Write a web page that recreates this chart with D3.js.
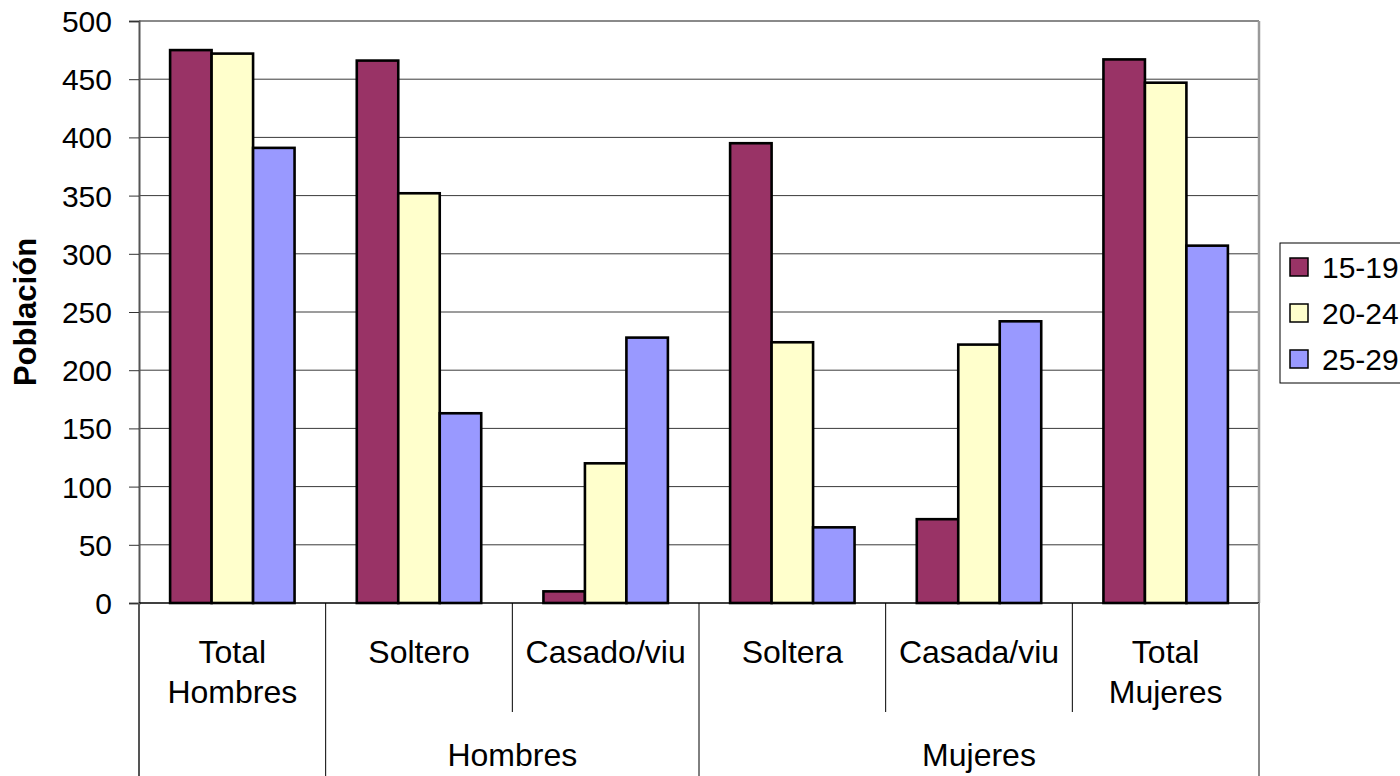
<!DOCTYPE html>
<html><head><meta charset="utf-8">
<script src="https://cdn.jsdelivr.net/npm/d3@7"></script>
<style>
html,body{margin:0;padding:0;background:#fff;}
svg{display:block;font-family:"Liberation Sans",Arial,sans-serif;}
</style></head>
<body>
<svg id="chart" width="1400" height="776"></svg>
<script>
const categories = ["Total\nHombres","Soltero","Casado/viu","Soltera","Casada/viu","Total\nMujeres"];
const groups = [{name:"Hombres", from:1, to:2}, {name:"Mujeres", from:3, to:5}];
const seriesNames = ["15-19","20-24","25-29"];
const s1519 = [475, 466, 10, 395, 72, 467];
const s2024 = [472, 352, 120, 224, 222, 447];
const s2529 = [391, 163, 228, 65, 242, 307];
const seriesValues = [s1519, s2024, s2529];
const colors = ["#993366","#FFFFCC","#9999FF"];
const yTicks = [0,50,100,150,200,250,300,350,400,450,500];

const svg = d3.select("#chart");
const L = 139, R = 1259, T = 21, B = 603;
const x0 = d3.scaleBand().domain(d3.range(categories.length)).range([L, R]).padding(0);
const bw = x0.bandwidth();
const x1 = d3.scaleBand().domain(d3.range(seriesNames.length)).range([bw/6, bw*5/6]).padding(0);
const y = d3.scaleLinear().domain([0, 500]).range([B, T]);

// gridlines
svg.append("g").selectAll("line").data(yTicks.filter(d => d > 0 && d < 500)).join("line")
  .attr("x1", L).attr("x2", R).attr("y1", d => y(d)).attr("y2", d => y(d))
  .attr("stroke", "#3a3a3a").attr("stroke-width", 1);
// top & right border
svg.append("line").attr("x1", L).attr("x2", R).attr("y1", y(500)).attr("y2", y(500)).attr("stroke", "#8a8a8a").attr("stroke-width", 2);
svg.append("line").attr("x1", R).attr("x2", R).attr("y1", T).attr("y2", B).attr("stroke", "#9a9a9a").attr("stroke-width", 2.5);

// bars
const gBars = svg.append("g");
seriesValues.forEach((vals, si) => {
  gBars.append("g").selectAll("rect").data(vals).join("rect")
    .attr("x", (d, i) => x0(i) + x1(si))
    .attr("y", d => y(d))
    .attr("width", x1.bandwidth())
    .attr("height", d => y(0) - y(d))
    .attr("fill", colors[si]).attr("stroke", "#000").attr("stroke-width", 2.6);
});

// y axis
const yAxis = d3.axisLeft(y).tickValues(yTicks).tickSize(10).tickPadding(17);
const ga = svg.append("g").attr("transform", `translate(${L},0)`).call(yAxis);
ga.select(".domain").attr("stroke", "#555").attr("stroke-width", 2);
ga.selectAll(".tick line").attr("stroke", "#333").attr("stroke-width", 1);
ga.selectAll(".tick text").attr("font-size", 30).attr("fill", "#000").attr("font-family", "Liberation Sans, Arial, sans-serif").attr("dy", "0.35em");

// baseline
svg.append("line").attr("x1", L).attr("x2", R).attr("y1", B).attr("y2", B).attr("stroke", "#000").attr("stroke-width", 1.5);

// category dividers
const groupBoundaries = new Set([0, 1, 3, 6]);
for (let i = 0; i <= categories.length; i++) {
  const xx = i < categories.length ? x0(i) : R;
  const full = groupBoundaries.has(i);
  svg.append("line").attr("x1", xx).attr("x2", xx).attr("y1", B).attr("y2", full ? 776 : 712)
    .attr("stroke", i === 0 ? "#555" : (i === 6 ? "#8a8a8a" : "#000")).attr("stroke-width", (i === 0 || i === 6) ? 2 : 1);
}

// category labels
categories.forEach((c, i) => {
  const lines = c.split("\n");
  const t = svg.append("text").attr("x", x0(i) + bw/2).attr("y", 663)
    .attr("text-anchor", "middle").attr("font-size", 32).attr("fill", "#000");
  lines.forEach((ln, k) => t.append("tspan").attr("x", x0(i) + bw/2).attr("dy", k === 0 ? 0 : 40).text(ln));
});
groups.forEach(g => {
  const cx = (x0(g.from) + x0(g.to) + bw) / 2;
  svg.append("text").attr("x", cx).attr("y", 766).attr("text-anchor", "middle")
    .attr("font-size", 32).attr("fill", "#000").text(g.name);
});

// y title
svg.append("text").attr("transform", "translate(36,312) rotate(-90)")
  .attr("text-anchor", "middle").attr("font-size", 31).attr("font-weight", "bold").text("Población");

// legend
const lg = svg.append("g");
const lx = 1280, ly = 243, rowH = 46;
lg.append("rect").attr("x", lx).attr("y", ly).attr("width", 140).attr("height", rowH * 3 + 2)
  .attr("fill", "#fff").attr("stroke", "#000").attr("stroke-width", 1);
seriesNames.forEach((n, i) => {
  const cy = ly + 24 + i * rowH;
  lg.append("rect").attr("x", lx + 10).attr("y", cy - 9).attr("width", 18).attr("height", 18)
    .attr("fill", colors[i]).attr("stroke", "#000").attr("stroke-width", 1.5);
  lg.append("text").attr("x", lx + 42).attr("y", cy).attr("dy", "0.35em").attr("font-size", 30).text(n);
});
</script>
</body></html>
